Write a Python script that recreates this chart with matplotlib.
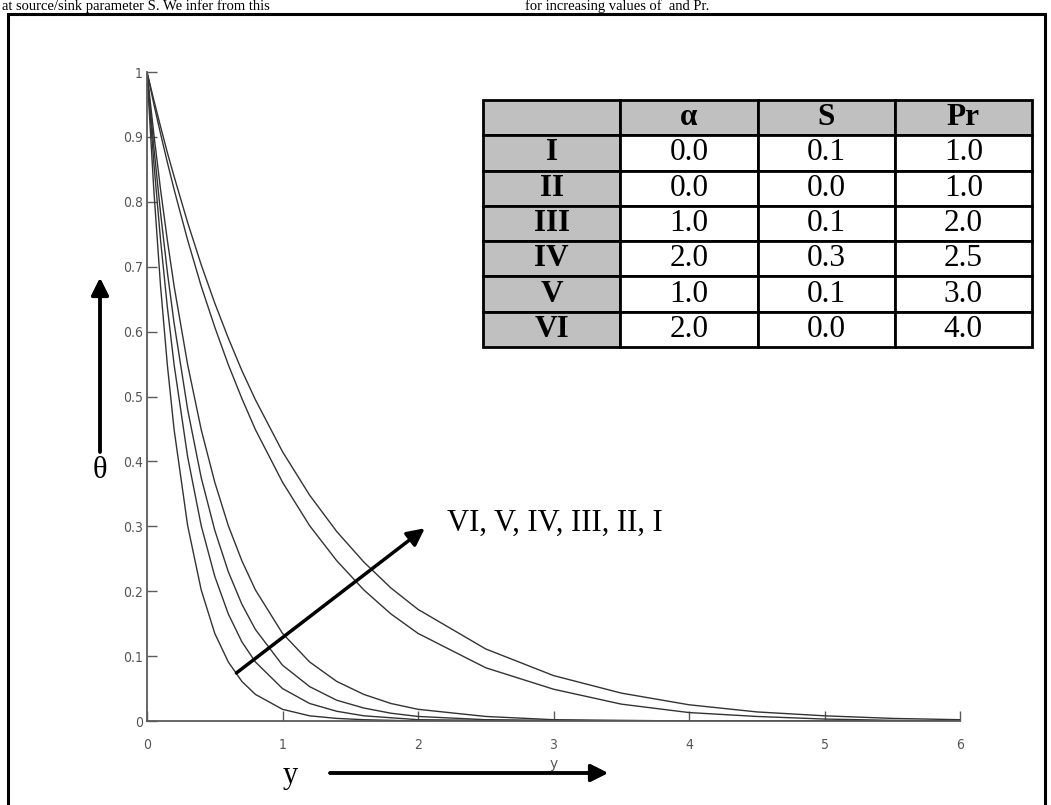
import matplotlib
matplotlib.use("Agg")
import matplotlib.pyplot as plt
from matplotlib.patches import Rectangle

# ---------------- data ----------------
y_pos = [0, 0.05, 0.1, 0.15, 0.2, 0.3, 0.4, 0.5, 0.6, 0.7, 0.8, 1.0, 1.2, 1.4,
         1.6, 1.8, 2.0, 2.5, 3.0, 3.5, 4.0, 4.5, 5.0, 5.5, 6.0]

theta_I   = [1.000, 0.957, 0.916, 0.876, 0.839, 0.768, 0.703, 0.644, 0.590, 0.540, 0.495, 0.415, 0.348, 0.292,
             0.245, 0.205, 0.172, 0.111, 0.070, 0.043, 0.025, 0.014, 0.008, 0.004, 0.002]
theta_II  = [1.000, 0.951, 0.905, 0.861, 0.819, 0.741, 0.670, 0.607, 0.549, 0.497, 0.449, 0.368, 0.301, 0.247,
             0.202, 0.165, 0.135, 0.082, 0.049, 0.026, 0.013, 0.007, 0.003, 0.001, 0.000]
theta_III = [1.000, 0.905, 0.819, 0.741, 0.670, 0.549, 0.449, 0.368, 0.301, 0.247, 0.202, 0.135, 0.091, 0.061,
             0.041, 0.027, 0.018, 0.007, 0.002, 0.001, 0.000, 0.000, 0.000, 0.000, 0.000]
theta_IV  = [1.000, 0.885, 0.783, 0.692, 0.613, 0.480, 0.375, 0.294, 0.230, 0.180, 0.141, 0.086, 0.053, 0.032,
             0.020, 0.012, 0.007, 0.002, 0.001, 0.000, 0.000, 0.000, 0.000, 0.000, 0.000]
theta_V   = [1.000, 0.861, 0.741, 0.638, 0.549, 0.407, 0.301, 0.223, 0.165, 0.122, 0.091, 0.050, 0.027, 0.015,
             0.008, 0.005, 0.002, 0.001, 0.000, 0.000, 0.000, 0.000, 0.000, 0.000, 0.000]
theta_VI  = [1.000, 0.819, 0.670, 0.549, 0.449, 0.301, 0.202, 0.135, 0.091, 0.061, 0.041, 0.018, 0.008, 0.004,
             0.002, 0.001, 0.000, 0.000, 0.000, 0.000, 0.000, 0.000, 0.000, 0.000, 0.000]

series = [theta_I, theta_II, theta_III, theta_IV, theta_V, theta_VI]

x_ticks = [0, 1, 2, 3, 4, 5, 6]
x_tick_labels = ["0", "1", "2", "3", "4", "5", "6"]
y_ticks = [0, 0.1, 0.2, 0.3, 0.4, 0.5, 0.6, 0.7, 0.8, 0.9, 1.0]
y_tick_labels = ["0", "0.1", "0.2", "0.3", "0.4", "0.5", "0.6", "0.7", "0.8", "0.9", "1"]

table_header = ["", "\u03b1", "S", "Pr"]
case_labels = ["I", "II", "III", "IV", "V", "VI"]
alpha_vals = ["0.0", "0.0", "1.0", "2.0", "1.0", "2.0"]
S_vals = ["0.1", "0.0", "0.1", "0.3", "0.1", "0.0"]
Pr_vals = ["1.0", "1.0", "2.0", "2.5", "3.0", "4.0"]

# ---------------- figure ----------------
W, H = 1051, 805
fig = plt.figure(figsize=(W / 100, H / 100), dpi=100)
fig.patch.set_facecolor("white")

serif = ["Liberation Serif", "DejaVu Serif"]

# page text above the framed figure
fig.text(2 / W, 1 - 10 / H, "at source/sink parameter S. We infer from this",
         fontsize=10.5, family=serif, va="baseline", ha="left")
fig.text(525 / W, 1 - 10 / H, "for increasing values of  and Pr.",
         fontsize=10.5, family=serif, va="baseline", ha="left")

# frame around the figure
fig.add_artist(Rectangle((8 / W, -0.1), (1045 - 8) / W, (805 - 14) / H + 0.1,
                         transform=fig.transFigure, fill=False, ec="black", lw=2.2))

# main axes
ax = fig.add_axes([147 / W, (805 - 721) / H, 813 / W, 649 / H])
for s in series:
    ax.plot(y_pos, s, color="#333333", lw=1.0)

ax.set_xlim(0, 6)
ax.set_ylim(0, 1)
ax.spines["top"].set_visible(False)
ax.spines["right"].set_visible(False)
for sp in ("left", "bottom"):
    ax.spines[sp].set_color("#5a5a5a")
    ax.spines[sp].set_linewidth(1.3)
ax.set_xticks(x_ticks)
ax.set_xticklabels(x_tick_labels)
ax.set_yticks(y_ticks)
ax.set_yticklabels(y_tick_labels)
ax.tick_params(direction="in", length=7, width=1, color="#5a5a5a",
               labelcolor="#555555", labelsize=10)
for lab in ax.get_xticklabels() + ax.get_yticklabels():
    lab.set_fontstretch("condensed")
ax.tick_params(axis="x", pad=12)
ax.tick_params(axis="y", pad=3)
ax.set_xlabel("y", fontsize=10, color="#555555", labelpad=4)

# diagonal arrow across the curves
ax.annotate("", xy=(2.05, 0.297), xytext=(0.66, 0.074), xycoords="data",
            arrowprops=dict(arrowstyle="-|>", lw=2.5, color="black", mutation_scale=26,
                            shrinkA=0, shrinkB=0))
fig.text(447 / W, (805 - 523) / H, "VI, V, IV, III, II, I", fontsize=22,
         family=serif, va="center", ha="left")

# theta label and arrow
fig.text(100 / W, (805 - 470) / H, "\u03b8", fontsize=22, family=serif,
         va="center", ha="center")
fig.add_artist(plt.annotate("", xy=(100, 805 - 278), xytext=(100, 805 - 452),
                            xycoords="figure pixels", textcoords="figure pixels",
                            arrowprops=dict(arrowstyle="-|>", lw=2.5, color="black",
                                            mutation_scale=26, shrinkA=0, shrinkB=0)))

# y label and arrow
fig.text(290 / W, (805 - 775) / H, "y", fontsize=22, family=serif,
         va="center", ha="center")
fig.add_artist(plt.annotate("", xy=(608, 805 - 773), xytext=(330, 805 - 773),
                            xycoords="figure pixels", textcoords="figure pixels",
                            arrowprops=dict(arrowstyle="-|>", lw=2.5, color="black",
                                            mutation_scale=26, shrinkA=0, shrinkB=0)))

# parameter table
tax = fig.add_axes([483 / W, (805 - 347) / H, (1032 - 483) / W, (347 - 100) / H])
tax.axis("off")
cell_text = [table_header] + [[c, a, s, p] for c, a, s, p in
                               zip(case_labels, alpha_vals, S_vals, Pr_vals)]
tbl = tax.table(cellText=cell_text, bbox=[0, 0, 1, 1], cellLoc="center")
tbl.auto_set_font_size(False)
for (r, c), cell in tbl.get_celld().items():
    cell.set_linewidth(2.0)
    cell.set_edgecolor("black")
    txt = cell.get_text()
    txt.set_fontsize(22.5)
    txt.set_family(serif)
    if r == 0 or c == 0:
        cell.set_facecolor("#c0c0c0")
        txt.set_fontweight("bold")
    else:
        cell.set_facecolor("white")

fig.savefig("out.png", dpi=100, facecolor="white")
